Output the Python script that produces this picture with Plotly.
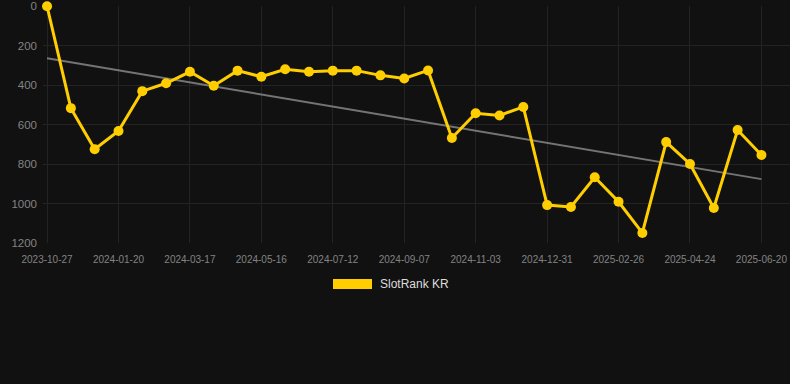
import numpy as np
import plotly.graph_objects as go

dates = [
    "2023-10-27", "2023-11-24", "2023-12-22", "2024-01-20", "2024-02-08", "2024-02-27",
    "2024-03-17", "2024-04-06", "2024-04-26", "2024-05-16", "2024-06-04", "2024-06-23",
    "2024-07-12", "2024-07-31", "2024-08-19", "2024-09-07", "2024-09-26", "2024-10-15",
    "2024-11-03", "2024-11-22", "2024-12-11", "2024-12-31", "2025-01-19", "2025-02-07",
    "2025-02-26", "2025-03-17", "2025-04-05", "2025-04-24", "2025-05-13", "2025-06-01",
    "2025-06-20",
]
rank_kr = [
    1, 517, 725, 633, 431, 391, 333, 404, 327, 358, 320, 333, 327, 327, 351, 367,
    326, 668, 543, 554, 511, 1008, 1018, 867, 991, 1149, 689, 800, 1023, 628, 754,
]
series_name = "SlotRank KR"
y_ticks = [0, 200, 400, 600, 800, 1000, 1200]
x_tick_labels = dates[::3]

GOLD = "rgb(255,206,0)"
BG = "#111111"
GRID = "#232323"
TICK = "#838383"

idx = np.arange(len(rank_kr))
slope, intercept = np.polyfit(idx, np.array(rank_kr, dtype=float), 1)
trend = intercept + slope * idx

fig = go.Figure()
fig.add_trace(go.Scatter(
    x=dates, y=trend, mode="lines",
    line=dict(color="rgba(150,150,150,0.75)", width=2),
    hoverinfo="skip", showlegend=False,
))
fig.add_trace(go.Scatter(
    x=dates, y=rank_kr, mode="lines+markers", name=series_name,
    line=dict(color=GOLD, width=3),
    marker=dict(color=GOLD, size=10),
    cliponaxis=False, showlegend=False,
))

# legend drawn manually (rectangle swatch + text)
fig.add_shape(type="rect", xref="paper", yref="paper",
              x0=(333 - 43) / 747, x1=(372 - 43) / 747,
              y0=-(289 - 243) / 237, y1=-(279 - 243) / 237,
              fillcolor=GOLD, line=dict(width=0))
fig.add_annotation(text=series_name, xref="paper", yref="paper",
                   x=(378 - 43) / 747, y=-(284 - 243) / 237,
                   xanchor="left", yanchor="middle", showarrow=False,
                   font=dict(family="Liberation Sans, Arial, sans-serif", size=12, color="#dddddd"))

fig.update_layout(
    width=790, height=384,
    margin=dict(l=43, r=0, t=6, b=141),
    paper_bgcolor=BG, plot_bgcolor=BG,
    font=dict(family="Liberation Sans, Arial, sans-serif", color=TICK),
    showlegend=False,
)
fig.update_xaxes(
    type="category", range=[-0.17, 31.2],
    tickmode="array", tickvals=x_tick_labels, ticktext=x_tick_labels,
    tickfont=dict(size=10, color=TICK),
    showgrid=True, gridcolor=GRID, gridwidth=1,
    zeroline=False, showline=False, ticks="", tickangle=0,
    ticklabelstandoff=9, ticklabeloverflow="allow",
)
fig.update_yaxes(
    range=[1200, -0.3], tickmode="array", tickvals=y_ticks,
    tickfont=dict(size=11.5, color=TICK),
    showgrid=True, gridcolor=GRID, gridwidth=1,
    zeroline=False, showline=False, ticks="", ticklabelstandoff=5,
    ticklabeloverflow="allow",
)

fig.write_html(
    "out.html",
    config={"displayModeBar": False},
    post_script="document.body.style.margin='0';document.body.style.overflow='hidden';",
)
